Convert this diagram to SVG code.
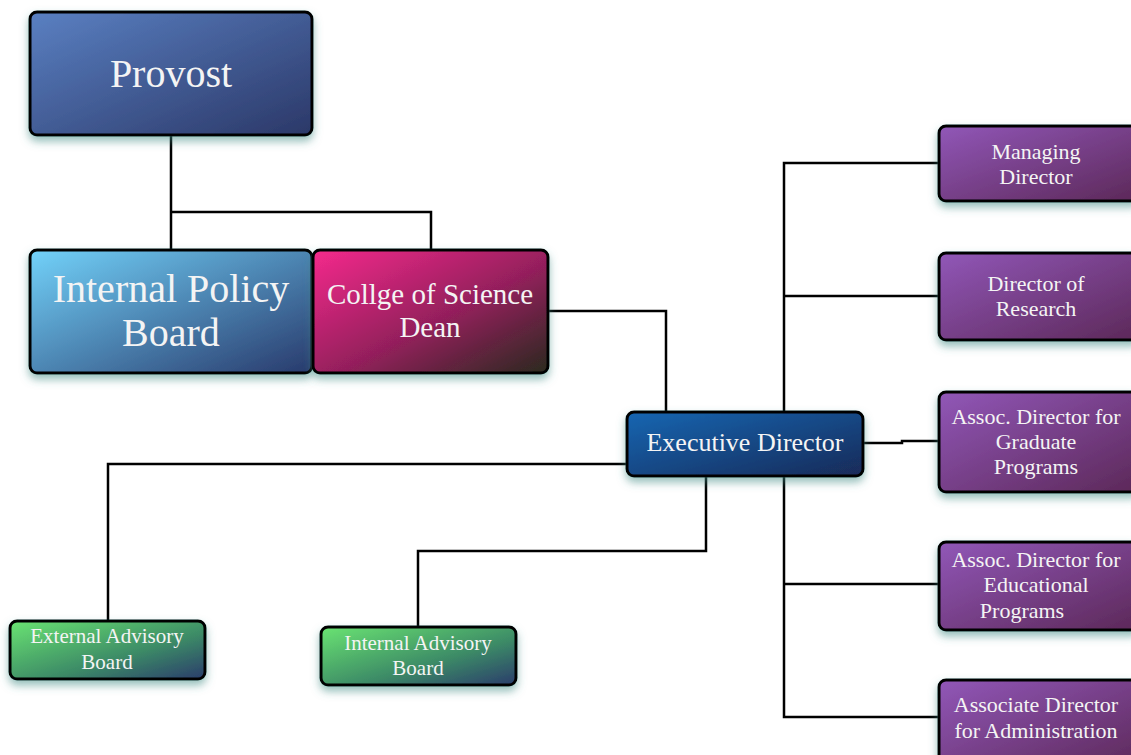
<svg xmlns="http://www.w3.org/2000/svg" width="1131" height="755" viewBox="0 0 1131 755">
<style>
.box{stroke:#000;stroke-width:3;filter:url(#sh)}
.t{font-family:"Liberation Serif","Times New Roman","DejaVu Serif",serif;fill:#f4f4f4;text-anchor:middle}
.c{fill:none;stroke:#000;stroke-width:2.5}
</style>
<defs>
<filter id="sh" x="-20%" y="-20%" width="140%" height="150%">
<feDropShadow dx="0" dy="5" stdDeviation="4" flood-color="#3d8a84" flood-opacity="0.55"/>
</filter>
<linearGradient id="gProv" x1="0" y1="0" x2="1" y2="1"><stop offset="0" stop-color="#5a80c2"/><stop offset="1" stop-color="#2b3868"/></linearGradient>
<linearGradient id="gIpb" x1="0" y1="0" x2="1" y2="1"><stop offset="0" stop-color="#72d2fa"/><stop offset="1" stop-color="#283a6c"/></linearGradient>
<linearGradient id="gDean" x1="0" y1="0" x2="1" y2="1"><stop offset="0" stop-color="#f52a8c"/><stop offset="0.55" stop-color="#941f5c"/><stop offset="1" stop-color="#2a2a1e"/></linearGradient>
<linearGradient id="gExec" x1="0" y1="0" x2="1" y2="1"><stop offset="0" stop-color="#1466b2"/><stop offset="1" stop-color="#1a2a58"/></linearGradient>
<linearGradient id="gPur" x1="0" y1="0" x2="1" y2="1"><stop offset="0" stop-color="#9157b8"/><stop offset="1" stop-color="#5c2858"/></linearGradient>
<linearGradient id="gGrn" x1="0" y1="0" x2="1" y2="1"><stop offset="0" stop-color="#6ae472"/><stop offset="0.6" stop-color="#3c8a66"/><stop offset="1" stop-color="#2a3c6c"/></linearGradient>
</defs>
<rect width="1131" height="755" fill="#fff"/>
<g id="connectors">
<path class="c" d="M171,135 V250 M171,212 H431 V250"/>
<path class="c" d="M548,311 H666 V412"/>
<path class="c" d="M627,464 H108 V621"/>
<path class="c" d="M706,476 V551 H418 V627"/>
<path class="c" d="M784,412 V163 H939 M784,296 H939"/>
<path class="c" d="M784,476 V717 H939 M784,584 H939"/>
<path class="c" d="M863,443 H902 V441 H939"/>
</g>
<g id="provost"><rect class="box" x="30" y="12" width="282" height="123" rx="7" fill="url(#gProv)"/><text class="t" x="171" y="87" font-size="40">Provost</text></g>
<g id="ipb"><rect class="box" x="30" y="250" width="282" height="123" rx="7" fill="url(#gIpb)"/><text class="t" x="171" y="302" font-size="40">Internal Policy</text><text class="t" x="171" y="346" font-size="40">Board</text></g>
<g id="dean"><rect class="box" x="313" y="250" width="235" height="123" rx="7" fill="url(#gDean)"/><text class="t" x="430" y="304" font-size="29">Collge of Science</text><text class="t" x="430" y="337" font-size="29">Dean</text></g>
<g id="exec"><rect class="box" x="627" y="412" width="236" height="64" rx="7" fill="url(#gExec)"/><text class="t" x="745" y="451" font-size="26">Executive Director</text></g>
<g id="managing"><rect class="box" x="939" y="126" width="200" height="75" rx="7" fill="url(#gPur)"/><text class="t" x="1036" y="159" font-size="22">Managing</text><text class="t" x="1036" y="184" font-size="22">Director</text></g>
<g id="research"><rect class="box" x="939" y="253" width="200" height="87" rx="7" fill="url(#gPur)"/><text class="t" x="1036" y="291" font-size="22">Director of</text><text class="t" x="1036" y="316" font-size="22">Research</text></g>
<g id="grad"><rect class="box" x="939" y="392" width="200" height="100" rx="7" fill="url(#gPur)"/><text class="t" x="1036" y="424" font-size="22">Assoc. Director for</text><text class="t" x="1036" y="449" font-size="22">Graduate</text><text class="t" x="1036" y="474" font-size="22">Programs</text></g>
<g id="edu"><rect class="box" x="939" y="542" width="200" height="88" rx="7" fill="url(#gPur)"/><text class="t" x="1036" y="567" font-size="22">Assoc. Director for</text><text class="t" x="1036" y="592" font-size="22">Educational</text><text class="t" x="1022" y="618" font-size="22">Programs</text></g>
<g id="admin"><rect class="box" x="939" y="680" width="200" height="90" rx="7" fill="url(#gPur)"/><text class="t" x="1036" y="712" font-size="22">Associate Director</text><text class="t" x="1036" y="738" font-size="22">for Administration</text></g>
<g id="external"><rect class="box" x="10" y="621" width="195" height="58" rx="7" fill="url(#gGrn)"/><text class="t" x="107" y="643" font-size="21">External Advisory</text><text class="t" x="107" y="669" font-size="21">Board</text></g>
<g id="internal"><rect class="box" x="321" y="627" width="195" height="58" rx="7" fill="url(#gGrn)"/><text class="t" x="418" y="650" font-size="21">Internal Advisory</text><text class="t" x="418" y="675" font-size="21">Board</text></g>
</svg>
